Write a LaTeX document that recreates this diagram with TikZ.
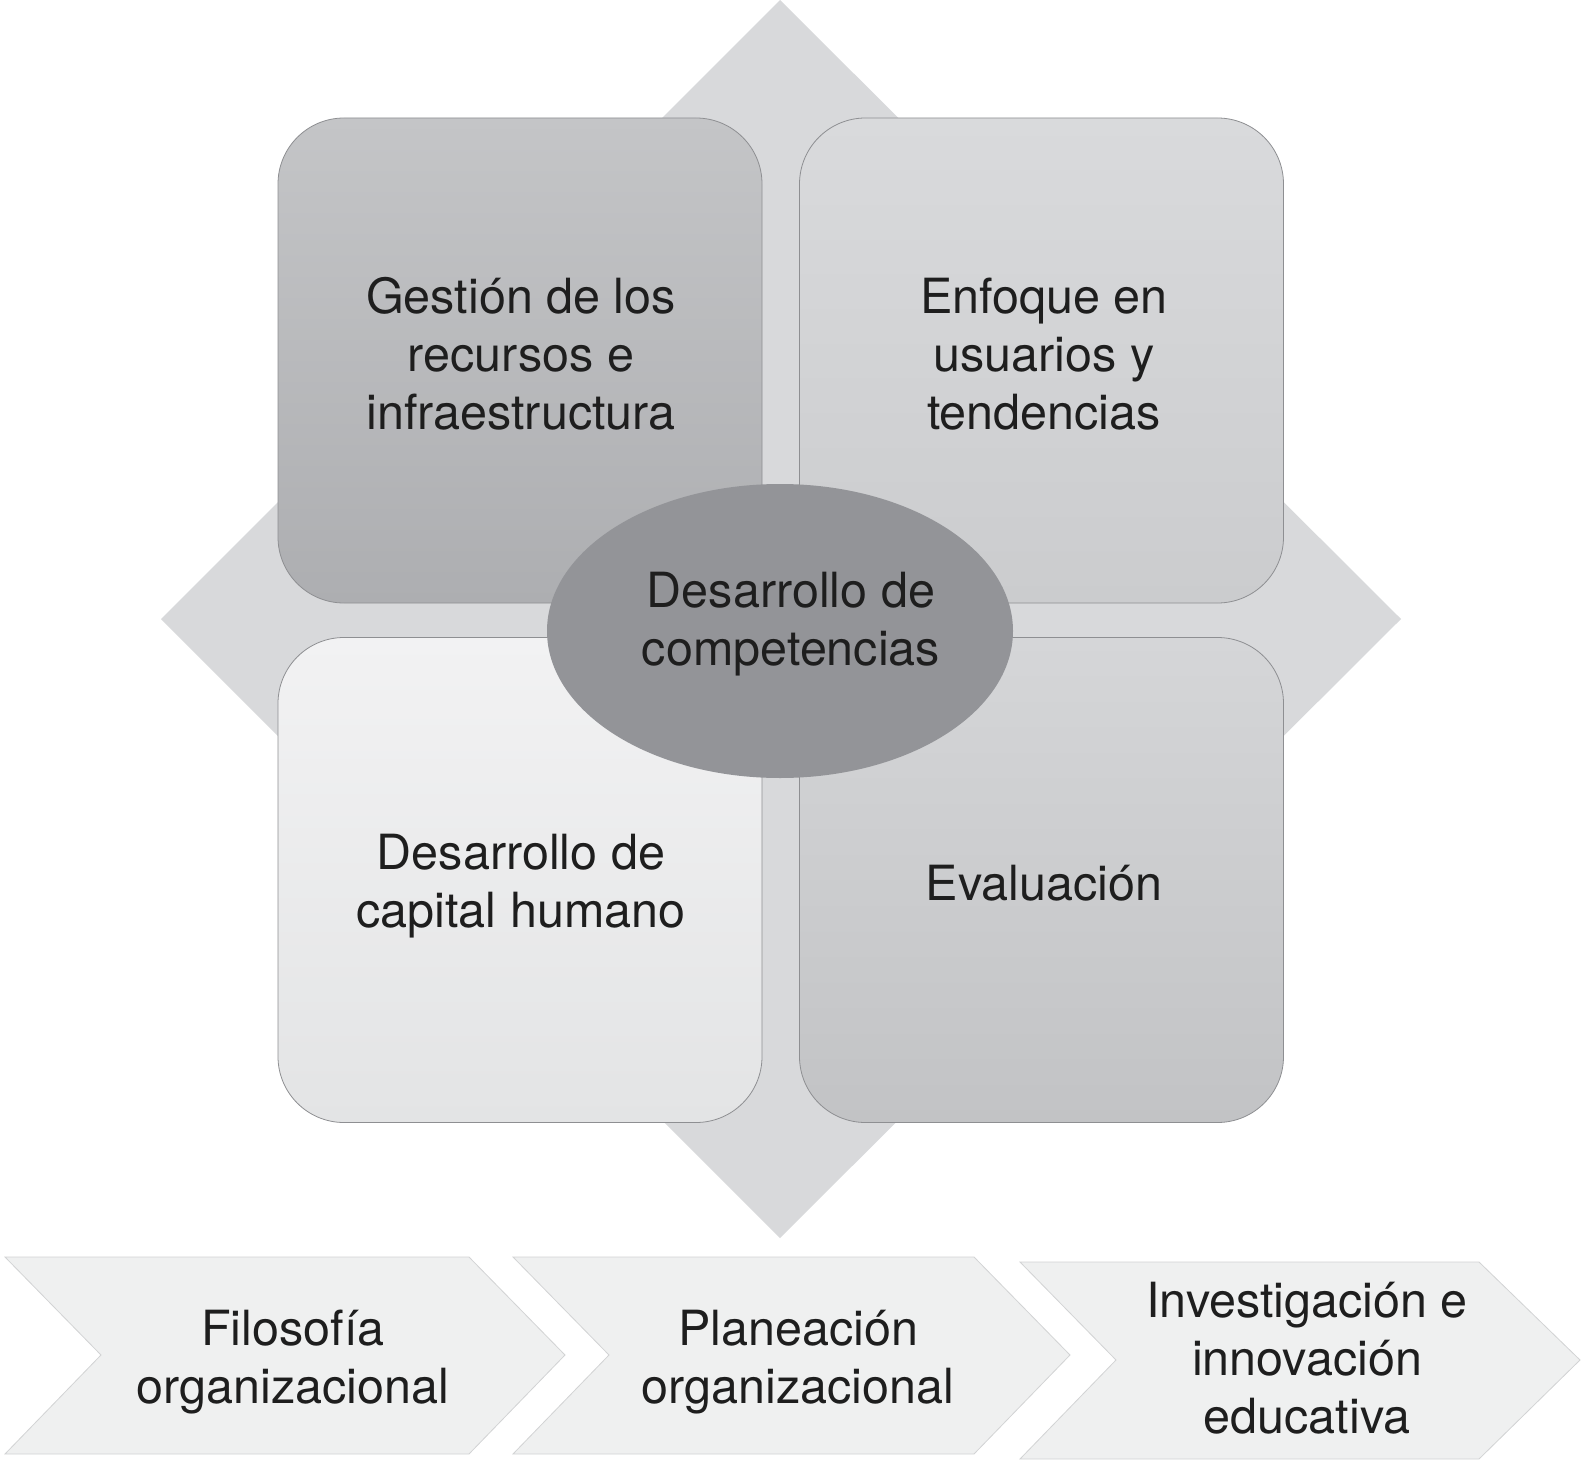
\documentclass[tikz,border=0pt]{standalone}
\usepackage{fontspec}
\setmainfont{TeX Gyre Heros}
\usetikzlibrary{shapes.geometric}
\definecolor{diacol}{HTML}{D8D9DB}
\definecolor{tltop}{HTML}{C4C5C7}
\definecolor{tlbot}{HTML}{ADAEB1}
\definecolor{trtop}{HTML}{D9DADC}
\definecolor{trbot}{HTML}{CBCCCE}
\definecolor{bltop}{HTML}{F2F2F3}
\definecolor{blbot}{HTML}{E3E4E5}
\definecolor{brtop}{HTML}{D5D6D8}
\definecolor{brbot}{HTML}{C2C3C5}
\definecolor{ellcol}{HTML}{939498}
\definecolor{chevfill}{HTML}{EFF0F0}
\definecolor{chevline}{HTML}{D2D3D4}
\definecolor{boxline}{HTML}{8E8F92}
\definecolor{txtcol}{HTML}{1E1E1E}
\tikzset{
  quadbox/.style={rectangle, rounded corners=66pt, draw=boxline, line width=0.8pt,
    minimum width=484pt, minimum height=485pt, inner sep=0pt},
  lbl/.style={align=center, text=txtcol, inner sep=0pt,
    font=\fontsize{48.5}{58}\selectfont},
  chev/.style={fill=chevfill, draw=chevline, line width=0.8pt}
}
\begin{document}
\begin{tikzpicture}[x=1pt,y=-1pt]
\useasboundingbox (0,0) rectangle (1583,1463);
\fill[white] (0,0) rectangle (1583,1463);
% background diamond
\fill[diacol] (780,0) -- (1401,619) -- (780,1238) -- (161,619) -- cycle;
% quadrant boxes
\node[quadbox, top color=tltop, bottom color=tlbot] (tl) at (520,360.5) {};
\node[quadbox, top color=trtop, bottom color=trbot] (tr) at (1041.5,360.5) {};
\node[quadbox, top color=bltop, bottom color=blbot] (bl) at (520,880) {};
\node[quadbox, top color=brtop, bottom color=brbot] (br) at (1041.5,880) {};
% central ellipse
\node[ellipse, fill=ellcol, minimum width=466pt, minimum height=294pt, inner sep=0pt] (ell) at (780,631) {};
% labels
\node[lbl] (tltxt) at (521,354) {Gestión de los\\recursos e\\infraestructura};
\node[lbl] (trtxt) at (1044,354) {Enfoque en\\usuarios y\\tendencias};
\node[lbl] (bltxt) at (521,886) {Desarrollo de\\capital humano};
\node[lbl] (brtxt) at (1044,883) {Evaluación};
\node[lbl] (elltxt) at (791,624) {Desarrollo de\\competencias};
% chevrons
\draw[chev] (5,1257) -- (469,1257) -- (565,1355) -- (469,1454) -- (5,1454) -- (101,1355) -- cycle;
\draw[chev] (513,1257) -- (974,1257) -- (1070,1355) -- (974,1454) -- (513,1454) -- (609,1355) -- cycle;
\draw[chev] (1020,1262) -- (1479,1262) -- (1580,1360) -- (1479,1459) -- (1020,1459) -- (1116,1360) -- cycle;
\node[lbl] (c1txt) at (293,1362) {Filosofía\\organizacional};
\node[lbl] (c2txt) at (798,1362) {Planeación\\organizacional};
\node[lbl] (c3txt) at (1307,1358) {Investigación e\\innovación\\educativa};
\end{tikzpicture}
\end{document}
